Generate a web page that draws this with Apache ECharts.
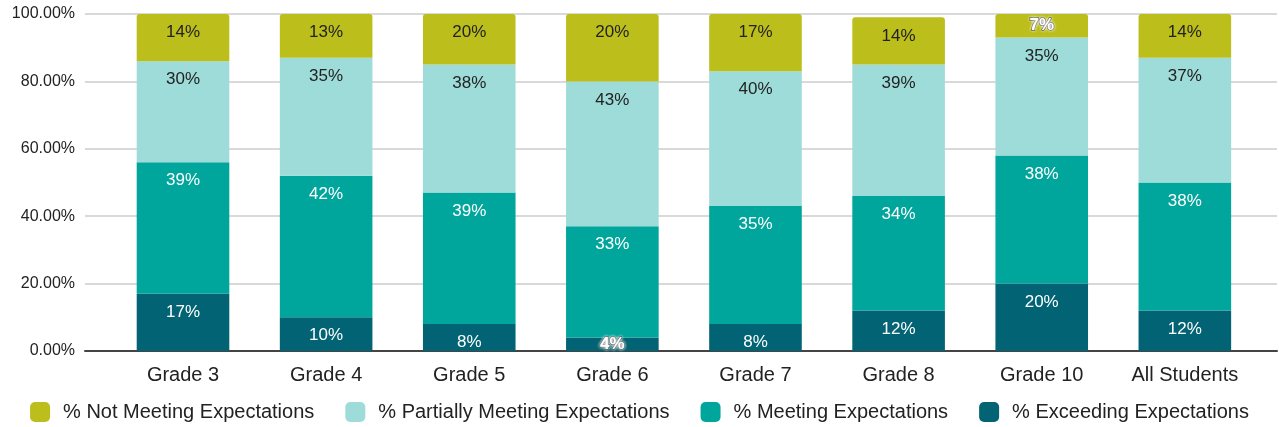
<!DOCTYPE html>
<html>
<head>
<meta charset="utf-8">
<script src="https://cdn.jsdelivr.net/npm/echarts@6/dist/echarts.min.js"></script>
<style>
  html, body { margin: 0; padding: 0; background: #fff; }
  #chart { width: 1279px; height: 427px; }
</style>
</head>
<body>
<div id="chart"></div>
<script>
// Student performance by grade (percent of students in each level)
const categories = ['Grade 3', 'Grade 4', 'Grade 5', 'Grade 6', 'Grade 7', 'Grade 8', 'Grade 10', 'All Students'];
const exceeding = [17, 10, 8, 4, 8, 12, 20, 12];
const meeting = [39, 42, 39, 33, 35, 34, 38, 38];
const partially = [30, 35, 38, 43, 40, 39, 35, 37];
const notMeeting = [14, 13, 20, 20, 17, 14, 7, 14];
const yTicks = [0, 20, 40, 60, 80, 100];

const FONT = "'Liberation Sans', Arial, sans-serif";
const colors = {
  not: '#bcbe1b',
  partial: '#9edcd9',
  meeting: '#00a59c',
  exceeding: '#016373'
};

// Segments too short for a label inside get a haloed label centred on them
function toData(values) {
  return values.map(v => {
    if (v >= 8) return v;
    return {
      value: v,
      label: {
        position: 'inside',
        color: '#fff',
        fontWeight: 'bold',
        textBorderColor: 'rgba(40,40,40,0.85)',
        textBorderWidth: 1.5,
        textShadowColor: '#fff',
        textShadowBlur: 3
      }
    };
  });
}

function barSeries(name, values, color, textColor, radius) {
  return {
    name: name,
    type: 'bar',
    stack: 'total',
    xAxisIndex: 1,
    yAxisIndex: 1,
    barWidth: 92.6,
    data: toData(values),
    itemStyle: { color: color, borderRadius: radius },
    label: {
      show: true,
      position: 'insideTop',
      distance: 10,
      color: textColor,
      fontFamily: FONT,
      fontSize: 17,
      formatter: p => p.value + '%'
    },
    emphasis: { disabled: true }
  };
}

const chart = echarts.init(document.getElementById('chart'), null, { renderer: 'canvas' });
chart.setOption({
  animation: false,
  backgroundColor: '#fff',
  textStyle: { fontFamily: FONT },
  grid: [
    // frame carrying the value scale and gridlines
    { left: 85, right: 2, top: 14, bottom: 76 },
    // plotting area for the bars
    { left: 111.45, right: 22.6, top: 14, bottom: 76 }
  ],
  legend: {
    bottom: 0,
    left: 'center',
    itemWidth: 20,
    itemHeight: 20,
    itemGap: 31,
    icon: 'roundRect',
    formatter: name => '{t|' + name + '}',
    textStyle: {
      fontFamily: FONT, fontSize: 20, color: '#222',
      rich: { t: { fontFamily: FONT, fontSize: 20, color: '#222', padding: [0, 0, 0, 8] } }
    },
    data: ['% Not Meeting Expectations', '% Partially Meeting Expectations', '% Meeting Expectations', '% Exceeding Expectations']
  },
  xAxis: [
    {
      gridIndex: 0, type: 'value', min: 0, max: 1,
      axisLine: { show: true, lineStyle: { color: '#444', width: 2 } },
      axisTick: { show: false }, axisLabel: { show: false }, splitLine: { show: false }
    },
    {
      gridIndex: 1, type: 'category', data: categories,
      axisLine: { show: false }, axisTick: { show: false },
      axisLabel: { fontFamily: FONT, fontSize: 20, color: '#222', margin: 14 }
    }
  ],
  yAxis: [
    {
      gridIndex: 0, type: 'value',
      min: yTicks[0], max: yTicks[yTicks.length - 1], interval: yTicks[1] - yTicks[0],
      axisLine: { show: false }, axisTick: { show: false },
      axisLabel: { fontFamily: FONT, fontSize: 16, color: '#222', margin: 10, formatter: v => v.toFixed(2) + '%' },
      splitLine: { lineStyle: { color: '#cccccc', width: 1.5 } }
    },
    {
      gridIndex: 1, type: 'value', min: 0, max: 100, show: false,
      splitLine: { show: false }
    }
  ],
  series: [
    barSeries('% Exceeding Expectations', exceeding, colors.exceeding, '#fff', 0),
    barSeries('% Meeting Expectations', meeting, colors.meeting, '#fff', 0),
    barSeries('% Partially Meeting Expectations', partially, colors.partial, '#222', 0),
    barSeries('% Not Meeting Expectations', notMeeting, colors.not, '#222', [3, 3, 0, 0])
  ]
});
</script>
</body>
</html>
